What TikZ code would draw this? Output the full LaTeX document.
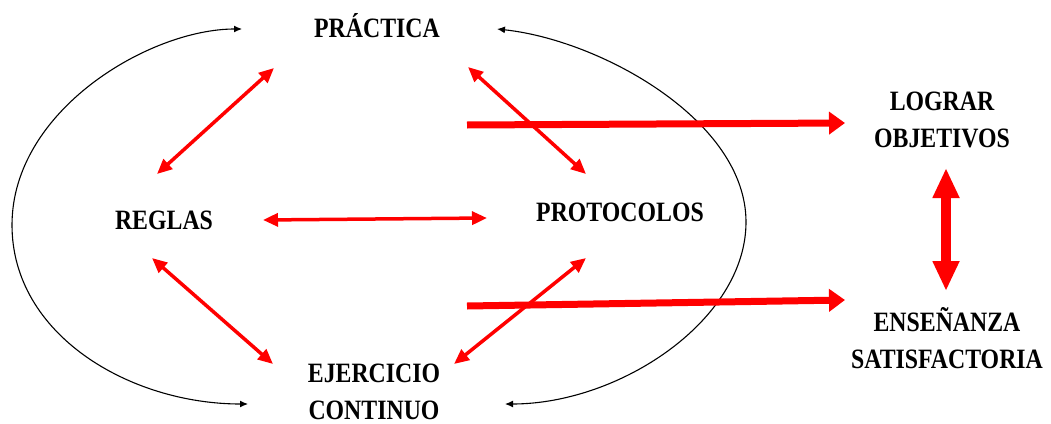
\documentclass[tikz,border=0pt]{standalone}
\usepackage{fontspec}
\setmainfont{Liberation Serif}[FakeStretch=0.85]
\usetikzlibrary{arrows.meta}

\begin{document}
\begin{tikzpicture}[x=1pt,y=-1pt,
  lbl/.style={font=\fontsize{28}{36.5}\selectfont\bfseries, align=center, anchor=base, inner sep=0pt},
  redarr/.style={red, line width=3.5pt, {Triangle[length=15pt,width=13pt]}-{Triangle[length=15pt,width=13pt]}},
  bigarr/.style={red, line width=7pt, -{Triangle[length=16pt,width=22pt]}},
  cyclearr/.style={black, line width=1.1pt, {Latex[length=8pt,width=7pt]}-{Latex[length=8pt,width=7pt]}}]
\useasboundingbox (0,0) rectangle (1051,423);

\node[lbl] (practica) at (377,37) {PRÁCTICA};
\node[lbl] (reglas) at (164,229) {REGLAS};
\node[lbl] (protocolos) at (620,221) {PROTOCOLOS};
\node[lbl] (ejercicio) at (374,419) {EJERCICIO\\CONTINUO};
\node[lbl] (lograr) at (942,147) {LOGRAR\\OBJETIVOS};
\node[lbl] (ensenanza) at (947,368) {ENSEÑANZA\\SATISFACTORIA};

\coordinate (pr1) at (274,68);
\coordinate (re1) at (157,174);
\coordinate (pr2) at (468,67);
\coordinate (po1) at (586,174);
\coordinate (re2) at (263,220);
\coordinate (po2) at (487,218);
\coordinate (re3) at (152,258);
\coordinate (ej1) at (273,364);
\coordinate (po3) at (586,258);
\coordinate (ej2) at (454,364);
\coordinate (lo1) at (467,125);
\coordinate (lo2) at (845,123);
\coordinate (en1) at (467,306);
\coordinate (en2) at (845,300);
\coordinate (lo3) at (946,168);
\coordinate (en3) at (946,291);
\coordinate (lt) at (242,29);
\coordinate (lb) at (248,404);
\coordinate (rt) at (497,29);
\coordinate (rb) at (505,404);

\draw[cyclearr] (lt) .. controls (150,29) and (12,110) .. (12,225) .. controls (12,335) and (130,404) .. (lb);
\draw[cyclearr] (rt) .. controls (600,40) and (746,120) .. (746,222) .. controls (746,320) and (620,404) .. (rb);

\draw[redarr] (pr1) -- (re1);
\draw[redarr] (pr2) -- (po1);
\draw[redarr] (re2) -- (po2);
\draw[redarr] (re3) -- (ej1);
\draw[redarr] (po3) -- (ej2);
\draw[bigarr] (lo1) -- (lo2);
\draw[bigarr] (en1) -- (en2);
\draw[red, line width=10pt, {Triangle[length=30pt,width=25pt]}-{Triangle[length=30pt,width=25pt]}] (lo3) -- (en3);
\end{tikzpicture}
\end{document}
